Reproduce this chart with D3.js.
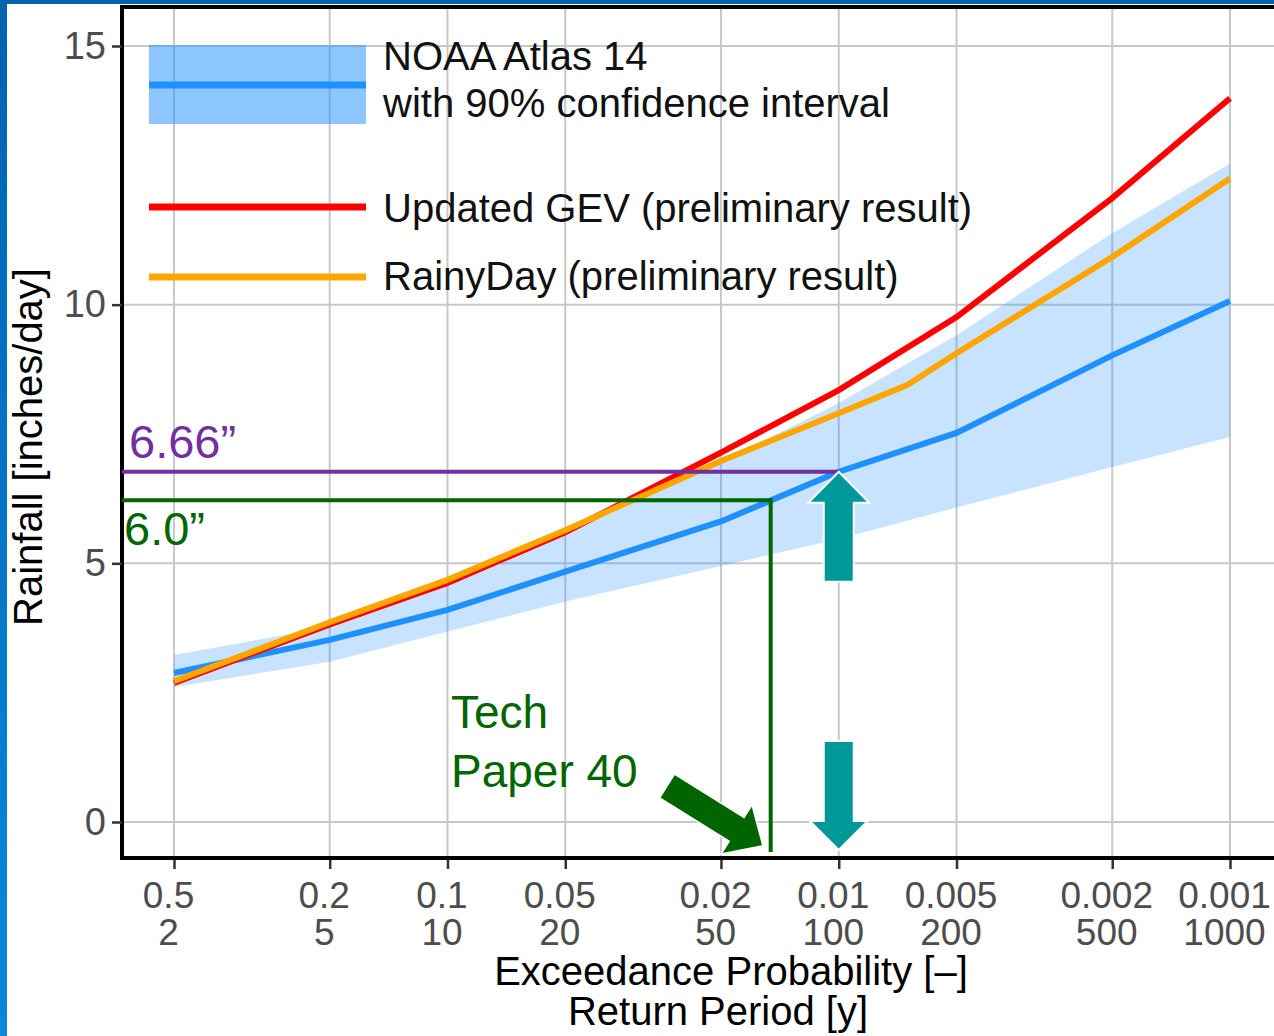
<!DOCTYPE html>
<html lang="en">
<head>
<meta charset="UTF-8">
<title>Rainfall frequency curves</title>
<script src="https://d3js.org/d3.v7.min.js"></script>
<style>
  body { margin: 0; background: #fff; }
  svg { display: block; font-family: "Liberation Sans", Arial, sans-serif; }
</style>
</head>
<body>
<div id="chart"></div>
<script>
// return periods (years) and the matching exceedance probabilities
var returnPeriods = [2, 5, 10, 20, 50, 100, 200, 500, 1000];
var exceedLabels = ["0.5", "0.2", "0.1", "0.05", "0.02", "0.01", "0.005", "0.002", "0.001"];
var yTicks = [0, 5, 10, 15];

// NOAA Atlas 14 estimate with its 90% band (inches/day)
var noaaMid = [2.88, 3.52, 4.10, 4.84, 5.81, 6.77, 7.52, 9.02, 10.07];
var noaaLow = [2.61, 3.10, 3.68, 4.26, 4.95, 5.47, 6.08, 6.86, 7.44];
var noaaHigh = [3.23, 3.77, 4.62, 5.56, 6.95, 8.10, 9.41, 11.38, 12.73];

// updated GEV fit
var gevValues = [2.69, 3.82, 4.62, 5.60, 7.14, 8.35, 9.76, 12.06, 13.99];

// RainyDay (has one extra point between 100 and 200 y)
var rainyPeriods = [2, 5, 10, 20, 50, 100, 150, 200, 500, 1000];
var rainyValues = [2.72, 3.86, 4.68, 5.64, 6.98, 7.90, 8.45, 9.06, 10.92, 12.44];

// annotations: levels drawn on the chart
var atlasLabel = "6.66\u201d", atlasLevel = 6.77, atlasPeriod = 100;
var tp40Label = "6.0\u201d", tp40Level = 6.22, tp40Period = 67;
var tp40Arrow = { period: 64, value: -0.46 };
var legendItems = ["NOAA Atlas 14", "with 90% confidence interval",
                   "Updated GEV (preliminary result)", "RainyDay (preliminary result)"];

var width = 1274, height = 1036;
var panel = { left: 122, top: 7, right: 1283, bottom: 858 };

var x = d3.scaleLog().domain([2, 1000]).range([174, 1230]);
var y = d3.scaleLinear().domain([0, 15]).range([822, 46]);

var svg = d3.select("#chart").append("svg")
    .attr("width", width)
    .attr("height", height);

// blue slide frame
var grad = svg.append("defs").append("linearGradient")
    .attr("id", "frame").attr("x1", 0).attr("y1", 0).attr("x2", 0).attr("y2", 1);
grad.append("stop").attr("offset", "0%").attr("stop-color", "#0064b0");
grad.append("stop").attr("offset", "100%").attr("stop-color", "#0a88dc");
svg.append("rect").attr("x", 0).attr("y", 0).attr("width", 7).attr("height", height).attr("fill", "url(#frame)");
svg.append("rect").attr("x", 0).attr("y", 0).attr("width", width).attr("height", 4).attr("fill", "#0064b0");

svg.select("defs").append("clipPath").attr("id", "clip")
  .append("rect")
    .attr("x", panel.left).attr("y", panel.top)
    .attr("width", panel.right - panel.left).attr("height", panel.bottom - panel.top);

// grid
var grid = svg.append("g").attr("stroke", "#c8c8c8").attr("stroke-width", 2);
grid.selectAll("line.v")
    .data(returnPeriods)
    .enter().append("line")
    .attr("x1", function (d) { return x(d); })
    .attr("x2", function (d) { return x(d); })
    .attr("y1", panel.top).attr("y2", panel.bottom);
grid.selectAll("line.h")
    .data(yTicks)
    .enter().append("line")
    .attr("x1", panel.left).attr("x2", panel.right)
    .attr("y1", function (d) { return y(d); })
    .attr("y2", function (d) { return y(d); });

var plot = svg.append("g").attr("clip-path", "url(#clip)");

var band = d3.area()
    .x(function (d, i) { return x(returnPeriods[i]); })
    .y0(function (d, i) { return y(noaaLow[i]); })
    .y1(function (d, i) { return y(noaaHigh[i]); });

plot.append("path")
    .attr("d", band(returnPeriods))
    .attr("fill", "#1e90ff")
    .attr("fill-opacity", 0.25);

function seriesLine(periods, values) {
    return d3.line()
        .x(function (d, i) { return x(periods[i]); })
        .y(function (d, i) { return y(values[i]); })(values);
}

plot.append("path").attr("d", seriesLine(returnPeriods, noaaMid))
    .attr("fill", "none").attr("stroke", "#1e90ff").attr("stroke-width", 6);
plot.append("path").attr("d", seriesLine(returnPeriods, gevValues))
    .attr("fill", "none").attr("stroke", "#ff0000").attr("stroke-width", 6);
plot.append("path").attr("d", seriesLine(rainyPeriods, rainyValues))
    .attr("fill", "none").attr("stroke", "#ffa500").attr("stroke-width", 6);

// legend
var legend = svg.append("g");
legend.append("rect")
    .attr("x", 149).attr("y", 45).attr("width", 217).attr("height", 79)
    .attr("fill", "#1e90ff").attr("fill-opacity", 0.5);
var keyLines = [[85, "#1e90ff"], [207, "#ff0000"], [277, "#ffa500"]];
legend.selectAll("line")
    .data(keyLines)
    .enter().append("line")
    .attr("x1", 149).attr("x2", 366)
    .attr("y1", function (d) { return d[0]; })
    .attr("y2", function (d) { return d[0]; })
    .attr("stroke", function (d) { return d[1]; })
    .attr("stroke-width", 7);
var legendBase = [70, 117, 222, 290];
legend.selectAll("text")
    .data(legendItems)
    .enter().append("text")
    .attr("x", 383)
    .attr("y", function (d, i) { return legendBase[i]; })
    .attr("font-size", 40)
    .attr("fill", "#111")
    .text(function (d) { return d; });

// panel border
var border = svg.append("g").attr("stroke", "#000").attr("stroke-width", 4);
border.append("line").attr("x1", panel.left).attr("x2", panel.left).attr("y1", panel.top - 2).attr("y2", panel.bottom + 2);
border.append("line").attr("x1", panel.left - 2).attr("x2", width).attr("y1", panel.top).attr("y2", panel.top);
border.append("line").attr("x1", panel.left - 2).attr("x2", width).attr("y1", panel.bottom).attr("y2", panel.bottom);

// axes
var xAxis = svg.append("g")
    .attr("transform", "translate(0," + (panel.bottom + 2) + ")")
    .call(d3.axisBottom(x).tickValues(returnPeriods).tickSize(9).tickFormat(""));
xAxis.select(".domain").remove();
xAxis.selectAll(".tick line").attr("stroke", "#333").attr("stroke-width", 2.5);
var xt = xAxis.selectAll(".tick text")
    .attr("font-size", 37)
    .attr("fill", "#4d4d4d")
    .attr("text-anchor", "middle")
    .attr("y", 0).attr("dy", null);
xt.append("tspan").attr("x", -6).attr("y", 48)
    .text(function (d) { return exceedLabels[returnPeriods.indexOf(d)]; });
xt.append("tspan").attr("x", -6).attr("y", 85)
    .text(function (d) { return d; });

var yAxis = svg.append("g")
    .attr("transform", "translate(" + panel.left + ",0)")
    .call(d3.axisLeft(y).tickValues(yTicks).tickSize(10).tickPadding(6));
yAxis.select(".domain").remove();
yAxis.selectAll(".tick line").attr("stroke", "#333").attr("stroke-width", 2.5);
yAxis.selectAll(".tick text").attr("font-size", 38).attr("fill", "#4d4d4d").attr("font-family", null);

var xTitles = [["Exceedance Probability [\u2013]", 731], ["Return Period [y]", 718]];
svg.append("text")
    .attr("text-anchor", "middle")
    .attr("font-size", 40)
    .attr("fill", "#000")
    .selectAll("tspan")
    .data(xTitles)
    .enter().append("tspan")
    .attr("x", function (d) { return d[1]; })
    .attr("y", function (d, i) { return 985 + i * 40; })
    .text(function (d) { return d[0]; });

svg.append("text")
    .attr("transform", "translate(42,447) rotate(-90)")
    .attr("text-anchor", "middle")
    .attr("font-size", 40)
    .attr("fill", "#000")
    .text("Rainfall [inches/day]");

// annotations
var purple = "#7030a0", green = "#006600", teal = "#009999";

svg.append("line")
    .attr("x1", panel.left).attr("x2", x(atlasPeriod))
    .attr("y1", y(atlasLevel)).attr("y2", y(atlasLevel))
    .attr("stroke", purple).attr("stroke-width", 4);
svg.append("text")
    .attr("x", 129).attr("y", y(atlasLevel) - 14)
    .attr("font-size", 47).attr("fill", purple)
    .text(atlasLabel);

svg.append("path")
    .attr("d", "M" + panel.left + "," + y(tp40Level) + "H" + x(tp40Period) + "V" + (panel.bottom - 6))
    .attr("fill", "none").attr("stroke", green).attr("stroke-width", 4);
svg.append("text")
    .attr("x", 124).attr("y", y(tp40Level) + 45)
    .attr("font-size", 47).attr("fill", green)
    .text(tp40Label);

svg.append("text")
    .attr("font-size", 46).attr("fill", green)
    .selectAll("tspan")
    .data(["Tech", "Paper 40"])
    .enter().append("tspan")
    .attr("x", 451)
    .attr("y", function (d, i) { return 728 + i * 59; })
    .text(function (d) { return d; });

// block arrow with tip at the origin pointing along +x
function blockArrow(len, shaftW, headW, headL) {
    var s = shaftW / 2, h = headW / 2;
    return "M0,0 L" + (-headL) + "," + (-h) + " L" + (-headL) + "," + (-s) +
        " L" + (-len) + "," + (-s) + " L" + (-len) + "," + s +
        " L" + (-headL) + "," + s + " L" + (-headL) + "," + h + " Z";
}

svg.append("path")
    .attr("d", blockArrow(113, 28, 58, 31))
    .attr("transform", "translate(" + x(tp40Arrow.period) + "," + y(tp40Arrow.value) + ") rotate(32)")
    .attr("fill", "#006400").attr("stroke", "#fff").attr("stroke-width", 1.5);

svg.append("path")
    .attr("d", blockArrow(110, 30, 61, 31))
    .attr("transform", "translate(" + x(atlasPeriod) + "," + y(atlasLevel) + ") rotate(-90)")
    .attr("fill", teal).attr("stroke", "#fff").attr("stroke-width", 2);

svg.append("path")
    .attr("d", blockArrow(109, 30, 58, 29))
    .attr("transform", "translate(" + x(atlasPeriod) + "," + (panel.bottom - 8) + ") rotate(90)")
    .attr("fill", teal).attr("stroke", "#fff").attr("stroke-width", 2);
</script>
</body>
</html>
